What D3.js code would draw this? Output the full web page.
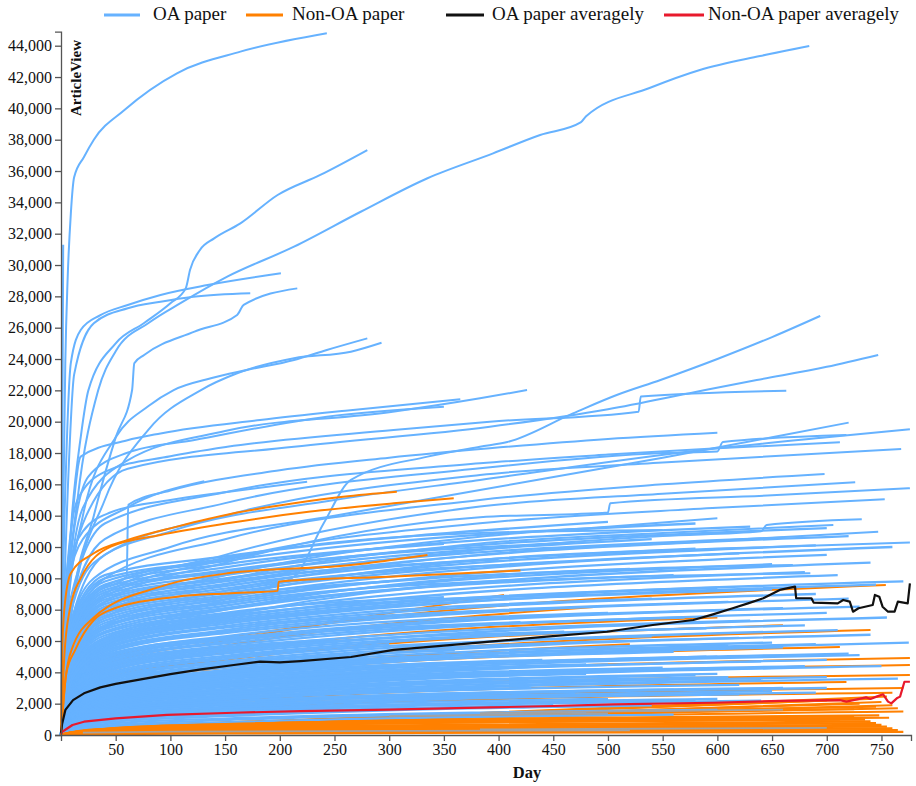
<!DOCTYPE html>
<html><head><meta charset="utf-8">
<script src="https://cdn.jsdelivr.net/npm/d3@7"></script>
<style>
body{margin:0;background:#fff}
text{font-family:"Liberation Serif","Times New Roman",serif}
</style>
</head><body>
<svg id="chart" width="916" height="786"></svg>
<script>
// ---------------- DATA ----------------
const xTicks = [50,100,150,200,250,300,350,400,450,500,550,600,650,700,750];
const yTicks = [0,2000,4000,6000,8000,10000,12000,14000,16000,18000,20000,22000,24000,26000,28000,30000,32000,34000,36000,38000,40000,42000,44000];
const legendLabels = ["OA paper","Non-OA paper","OA paper averagely","Non-OA paper averagely"];
const seriesColors = ["#66b2ff","#ff8000","#111111","#e8192c"];
const otherColor = "#a3a3a3";

// individually readable OA papers: [day, views]
const oaTraced = [
  [[0,0],[1,5000],[2,14000],[4,24000],[6,29000],[9,33300],[12,35600],[21,36900],[30,38000],[58,39900],[106,42240],[164,43620],[243,44790]],
  [[0,0],[1,15000],[2,31300]],
  [[0,0],[3,6000],[10,14000],[18,19000],[25,22000],[50,25000],[76,26300],[100,27560],[114,28510],[118,29700],[127,30960],[140,31700],[164,32660],[198,34470],[237,35750],[280,37340]],
  [[0,0],[5,8000],[15,15000],[34,22000],[50,24500],[80,26300],[110,27600],[152,29260],[213,31170],[274,33400],[335,35540],[395,37130],[438,38300],[475,39100],[480,39500],[538,41300],[584,42450],[639,43340],[684,43980]],
  [[0,0],[2,10000],[5,18000],[9,23750],[18,25850],[36,26800],[61,27450],[91,28090],[134,28720],[201,29470]],
  [[0,0],[3,9000],[7,17000],[12,23000],[30,26280],[61,27240],[91,27660],[121,27980],[173,28200]],
  [[0,0],[10,8000],[30,14000],[50,19000],[65,22020],[67,23730],[76,24260],[122,25750],[161,26810],[167,27450],[216,28510]],
  [[0,0],[5,7000],[20,14000],[50,19000],[80,21000],[103,22020],[137,22770],[170,23300],[213,23940],[243,24580],[280,25320]],
  [[0,0],[10,8000],[40,15000],[80,19500],[128,22020],[161,23090],[213,24050],[265,24470],[293,25040]],
  [[0,0],[3,8000],[8,12000],[18,17770],[60,18800],[91,19250],[182,20100],[260,20700],[365,21430]],
  [[0,0],[4,7000],[10,12000],[25,16500],[60,18000],[122,18830],[243,20320],[350,20950]],
  [[0,0],[6,8000],[20,14500],[60,17500],[150,19400],[300,20600],[383,21490],[426,22020]],
  [[0,0],[4,9000],[15,15000],[40,16800],[100,17800],[152,18400],[304,19470],[392,20000],[528,20640],[530,21600],[663,21980]],
  [[0,0],[5,8000],[20,13500],[61,17000],[213,18400],[392,19680],[500,20800],[580,21900],[636,22660],[700,23500],[747,24260]],
  [[0,0],[10,3500],[40,5500],[100,7500],[180,9300],[213,10100],[240,13500],[265,16280],[335,17770],[383,18400],[408,18700],[468,20530],[508,21700],[548,22660],[600,24000],[650,25400],[694,26750]],
  [[0,0],[5,6000],[30,10000],[100,12000],[250,14000],[383,15640],[550,17700],[650,19000],[720,19940]],
  [[0,0],[5,6500],[30,11000],[100,13000],[250,15000],[383,16280],[600,18300],[700,19000],[776,19510]],
  [[0,0],[5,7000],[40,12500],[150,14800],[383,17020],[550,18000],[600,18100],[605,18700],[718,19150]],
  [[0,0],[5,7500],[40,13500],[150,15500],[383,17340],[500,17900],[600,18300],[712,18680]],
  [[0,0],[5,6000],[40,11500],[150,14000],[383,16600],[550,17400],[768,18260]],
  [[0,0],[5,5500],[40,10000],[150,12500],[383,15000],[550,16000],[698,16660]],
  [[0,0],[5,5000],[40,9000],[150,11500],[383,14580],[550,15400],[726,16130]],
  [[0,0],[5,4500],[40,8500],[150,11000],[383,13900],[500,14200],[502,14800],[650,15300],[776,15750]],
  [[0,0],[5,4800],[40,8800],[150,11200],[383,13510],[600,14500],[753,15050]],
  [[0,0],[5,4500],[40,8000],[150,10200],[383,12660],[500,13300],[600,13830]],
  [[0,0],[5,5200],[40,9500],[150,11300],[383,12900],[550,13090]],
  [[0,0],[5,4000],[40,7500],[150,9600],[383,11810],[550,12700],[640,13000],[645,13400],[732,13770]],
  [[0,0],[5,4200],[40,7800],[150,9900],[383,12230],[550,12900],[706,13400]],
  [[0,0],[5,3800],[40,7000],[150,9200],[383,11500],[600,12400],[747,12980]],
  [[0,0],[5,3600],[40,6800],[150,8800],[383,11170],[600,11900],[776,12280]],
  [[0,0],[5,3200],[40,6200],[150,8000],[383,10100],[669,10850]],
  [[0,0],[5,3000],[40,5800],[150,7600],[383,9700],[685,10320]],
  [[0,0],[2,6000],[5,10000],[20,13000],[45,14200],[100,15000],[150,15500],[225,16170]],
  [[0,0],[5,5000],[10,7000],[30,9000],[60,10100],[61.5,14700],[100,15600],[200,16900],[300,17700],[392,18300],[500,18900],[600,19300]],
  [[0,0],[2,5000],[5,9000],[20,12500],[60,14500],[131,16200]]
];

// dense OA papers: [last day, views@5, views@40, views@150, views@last]
const oaBand = [
  [560,150,500,800,1300],[600,250,700,1050,1600],
  [480,200,600,950,1500],[540,280,800,1200,1900],[450,320,950,1350,1900],[600,380,1050,1500,2300],
  [500,420,1150,1650,2300],[650,480,1250,1800,2800],[470,520,1350,1950,2600],[560,580,1450,2100,2900],
  [620,620,1550,2250,3200],[430,680,1650,2350,3000],[700,720,1750,2500,3700],[520,780,1850,2650,3600],
  [600,820,1950,2750,3900],[480,880,2050,2900,3900],[680,930,2150,3050,4400],[550,980,2250,3150,4300],
  [640,1030,2350,3300,4700],[500,1080,2450,3400,4500],[720,1130,2550,3550,5200],[590,1180,2650,3650,5000],
  [420,1230,2750,3750,4700],[660,1280,2850,3900,5600],[530,1330,2950,4000,5300],[610,1380,3050,4100,5700],
  [520,300,900,1300,1900],[640,350,1000,1450,2200],[580,400,1100,1600,2200],[690,450,1200,1750,2700],
  [620,500,1300,1900,2600],[700,550,1400,2000,3000],[660,600,1500,2150,3000],[765,650,1600,2300,3600],
  [640,700,1700,2400,3500],[610,750,1800,2550,3700],[580,800,1900,2700,3800],[750,850,2000,2800,4400],
  [660,900,2100,2950,4300],[520,950,2200,3100,4200],[700,1000,2300,3200,4800],[480,1050,2400,3350,4500],
  [730,1100,2500,3450,5100],[600,1150,2600,3600,5000],[440,1200,2700,3700,4800],[775,1250,2800,3800,5900],
  [560,1300,2900,3950,5300],[690,1350,3000,4050,5800],[400,1400,3100,4150,5200],[650,1450,3200,4300,5900],
  [740,1500,3300,4400,6400],[360,1550,3400,4500,5400],[620,1600,3500,4600,6200],[710,1650,3600,4700,6700],
  [540,1700,3700,4850,6300],[300,1750,3800,4950,5800],[680,1800,3900,5050,7000],[590,1850,4000,5200,6800],
  [755,1900,4100,5300,7500],[460,1950,4200,5400,6600],[630,2000,4300,5500,7300],[250,2050,4400,5600,6100],
  [700,2100,4500,5700,7800],[570,2150,4600,5850,7500],[420,2200,4700,5950,7200],[730,2250,4800,6050,8200],
  [660,2300,4900,6150,8100],[500,2350,5000,6300,7800],[200,2400,5100,6200,6400],[720,2450,5200,6500,8700],
  [610,2500,5300,6600,8500],[380,2600,5400,6700,7900],[690,2700,5500,6850,9000],[540,2800,5600,6950,8700],
  [745,2900,5700,7100,9600],[650,3000,5800,7200,9300],
  [770,3100,5900,7300,9800],[600,3200,6000,7400,9400],[710,3300,6100,7500,10200],[480,3400,6200,7600,9000],
  [680,3500,6350,7700,10400],[350,3600,6500,7800,8800],[740,3700,6600,8000,11000],[560,3800,6750,8100,10200],
  [650,3900,6900,8250,10900],[420,4000,7000,8400,9900],[700,4100,7150,8500,11500],[520,4200,7300,8650,10600],
  [760,4300,7450,8800,12000],[300,4400,7600,8900,9800],[620,4500,7750,9050,11600],[690,4600,7900,9200,12100],
  [450,4700,8050,9350,11000],[580,4800,8200,9500,11900],[720,4900,8350,9650,12700],[400,5000,8500,9800,11200],
  [660,5100,8650,9950,12600],[250,5200,8800,10000,10800],[540,5300,8950,10200,12500],[700,5400,9100,10400,13200],
  [470,5500,9250,10500,12300],[630,5600,9400,10700,13300],[350,5800,9600,10900,12200],[580,6000,9800,11100,13500],
  [200,6200,10000,11200,11900],[500,6400,10200,11400,13600]
];

// Non-OA papers running under the OA mass: same tuple layout
const nonOaMid = [
  [405,2400,4500,6000,8940],[487,2200,4200,5700,8170],[740,1500,3200,4300,6700],[712,1300,2800,3900,5620],
  [776,1100,2400,3400,4920],[776,1000,2200,3100,4470],[776,900,2000,2800,3830],[718,700,1600,2200,3380],
  [770,600,1400,2000,3000],[760,500,1200,1700,2700],[754,2500,4800,6200,9570],[660,1800,3600,4800,7000],
  [600,2000,4000,5300,7500],[520,1400,3000,4000,5800],
  [770,90,350,650,1500],[765,100,380,680,1700],[760,110,400,700,1900],[750,120,420,720,2100],
  [740,130,440,740,2300],[755,140,460,760,2450],[730,150,470,780,2000],[745,160,490,800,1800],
  [700,170,500,800,2200],[725,150,460,760,1650]
];
// low-view Non-OA papers
const nonOaBand = [
  [770,20,60,100,200],[765,30,100,170,320],[760,40,140,240,420],[755,50,180,310,540],[750,60,220,380,650],
  [745,70,260,450,760],[740,80,300,520,870],[735,90,340,580,980],[730,100,370,640,1080],[725,110,400,700,1180],
  [748,100,380,680,1250],[757,90,350,620,1100],[712,80,320,560,1000]
];
// clearly visible Non-OA papers: [day, views]
const nonOaTraced = [
  [[0,0],[1,5000],[3,8000],[9,10320],[30,11600],[61,12450],[106,13300],[158,14150],[213,14790],[258,15210],[307,15530]],
  [[0,0],[3,5000],[8,8000],[18,10000],[45.5,12020],[91,12770],[152,13510],[228,14260],[304,14790],[359,15110]],
  [[0,0],[4,3500],[10,5500],[30,7500],[91,9470],[152,10320],[265,10850],[335,11490]],
  [[0,0],[5,4000],[13,5430],[30,7340],[45,7980],[106,8830],[152,9040],[198,9200],[199,9790],[300,10100],[420,10500]]
];
// greyish overlapped traces
const otherLines = [
  [[20,150],[100,220],[300,260],[520,290]],
  [[300,1200],[420,1300],[500,1380]],
  [[383,1400],[560,1550],[660,1620]],
  [[383,350],[600,420],[700,450]]
];

const oaAverage = [[0,100],[1,700],[4,1600],[11,2230],[21,2660],[36,3040],[50,3260],[73,3550],[100,3890],[128,4190],[158,4470],[182,4680],[200,4640],[219,4720],[265,4980],[304,5430],[350,5700],[392,5960],[444,6280],[499,6590],[541,7020],[578,7340],[596,7700],[614,8090],[628,8400],[642,8730],[657,9260],[671,9470],[672,8730],[686,8730],[688,8450],[710,8400],[715,8620],[721,8510],[724,7870],[729,8090],[742,8300],[744,8940],[748,8830],[751,8190],[756,7870],[762,7870],[765,8510],[774,8400],[776,9680]];
const nonOaAverage = [[0,50],[1,200],[6,430],[10.5,640],[21,850],[50,1060],[97,1280],[158,1420],[219,1530],[300,1620],[392,1760],[450,1850],[505,1950],[596,2060],[657,2180],[712,2230],[718,2130],[736,2400],[740,2300],[745.5,2450],[751.5,2600],[756,2130],[759,2020],[764,2340],[767,2450],[771,3400],[776,3400]];

// ---------------- DRAW ----------------
const svg = d3.select("#chart");
svg.append("rect").attr("width",916).attr("height",786).attr("fill","#fff");

const x = d3.scaleLinear().domain([0,777]).range([61,911]);
const y = d3.scaleLinear().domain([0,44900]).range([735,31.6]);

const smooth = d3.line().x(d=>x(d[0])).y(d=>y(d[1])).curve(d3.curveMonotoneX);
const straight = d3.line().x(d=>x(d[0])).y(d=>y(d[1]));

function tuplePts(t){
  const pts=[[0,0],[5,t[1]],[40,t[2]]];
  if(t[0]>150) pts.push([150,t[3]]);
  pts.push([t[0],t[4]]);
  return pts;
}
function drawSet(data,color,w,op,gen){
  const g = svg.append("g");
  g.selectAll("path").data(data).join("path")
    .attr("d",gen).attr("fill","none").attr("stroke",color)
    .attr("stroke-width",w).attr("stroke-opacity",op)
    .attr("stroke-linejoin","round");
}

drawSet(nonOaMid.map(tuplePts), seriesColors[1], 2, 1, smooth);
drawSet(oaBand.map(tuplePts), seriesColors[0], 2.3, 1, smooth);
drawSet(oaTraced, seriesColors[0], 2, 1, smooth);
drawSet(nonOaBand.map(tuplePts), seriesColors[1], 2.2, 1, smooth);
drawSet(otherLines, otherColor, 1.8, 1, smooth);
drawSet(nonOaTraced, seriesColors[1], 2, 1, smooth);
drawSet([oaAverage], seriesColors[2], 2.2, 1, straight);
drawSet([nonOaAverage], seriesColors[3], 2.2, 1, straight);

// axes
const ax = svg.append("g").attr("transform","translate(0,735)")
  .call(d3.axisBottom(x).tickValues(xTicks).tickSizeOuter(6));
const ay = svg.append("g").attr("transform","translate(61,0)")
  .call(d3.axisLeft(y).tickValues(yTicks).tickFormat(d3.format(",")).tickSizeOuter(6));
[ax,ay].forEach(g=>{
  g.selectAll("path,line").attr("stroke","#555").attr("stroke-width",1.3);
  g.selectAll("text").attr("fill","#111").style("font-size","16px")
   .style("font-family",'"Liberation Serif","Times New Roman",serif');
});

svg.append("text").attr("x",527).attr("y",778).attr("text-anchor","middle")
  .style("font-weight","bold").style("font-size","16.5px").attr("fill","#111").text("Day");
svg.append("text").attr("transform","translate(81,40) rotate(-90)").attr("text-anchor","end")
  .style("font-weight","bold").style("font-size","15px").attr("fill","#111").text("ArticleView");

// legend
const legendPos = [[104,140,153],[246,283,292],[446,484,492],[664,704,708]];
legendLabels.forEach((lab,i)=>{
  const p = legendPos[i];
  svg.append("line").attr("x1",p[0]).attr("x2",p[1]).attr("y1",15).attr("y2",15)
    .attr("stroke",seriesColors[i]).attr("stroke-width",3);
  svg.append("text").attr("x",p[2]).attr("y",20).style("font-size","19px").attr("fill","#111").text(lab);
});
</script>
</body></html>
